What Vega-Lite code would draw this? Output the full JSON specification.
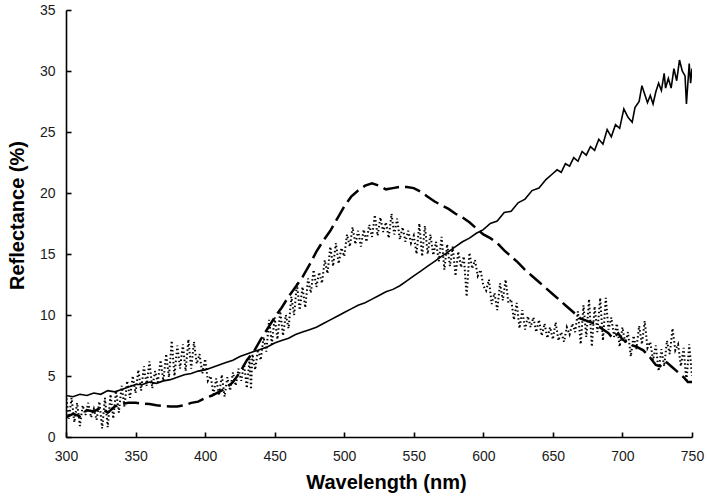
{
  "$schema": "https://vega.github.io/schema/vega-lite/v6.json",
  "width": 626,
  "height": 427,
  "autosize": {"type": "none"},
  "padding": {"left": 66, "top": 10, "right": 17, "bottom": 59},
  "background": "white",
  "config": {
    "view": {"stroke": null},
    "font": "Liberation Sans",
    "axis": {
      "grid": false,
      "domainColor": "#000",
      "domainWidth": 1.6,
      "tickColor": "#000",
      "tickWidth": 1.6,
      "tickSize": -5,
      "labelFont": "Liberation Sans",
      "labelFontSize": 14,
      "labelColor": "#1a1a1a",
      "titleFont": "Liberation Sans",
      "titleFontSize": 20,
      "titleFontWeight": "bold",
      "titleColor": "#000"
    }
  },
  "datasets": {
    "solid": [
      {"wl":300,"r":3.4},{"wl":305,"r":3.3},{"wl":310,"r":3.5},{"wl":315,"r":3.4},{"wl":320,"r":3.6},{"wl":325,"r":3.5},{"wl":330,"r":3.8},{"wl":335,"r":3.7},{"wl":340,"r":3.9},{"wl":345,"r":4.1},
      {"wl":350,"r":4.3},{"wl":355,"r":4.3},{"wl":360,"r":4.5},{"wl":365,"r":4.4},{"wl":370,"r":4.6},{"wl":375,"r":4.7},{"wl":380,"r":4.9},{"wl":385,"r":5.1},{"wl":390,"r":5.2},{"wl":395,"r":5.4},
      {"wl":400,"r":5.5},{"wl":405,"r":5.7},{"wl":410,"r":5.9},{"wl":415,"r":6.1},{"wl":420,"r":6.3},{"wl":425,"r":6.6},{"wl":430,"r":6.8},{"wl":435,"r":7.0},{"wl":440,"r":7.2},{"wl":445,"r":7.4},
      {"wl":450,"r":7.7},{"wl":455,"r":7.9},{"wl":460,"r":8.1},{"wl":465,"r":8.4},{"wl":470,"r":8.6},{"wl":475,"r":8.8},{"wl":480,"r":9.0},{"wl":485,"r":9.3},{"wl":490,"r":9.6},{"wl":495,"r":9.9},
      {"wl":500,"r":10.2},{"wl":505,"r":10.5},{"wl":510,"r":10.8},{"wl":515,"r":11.0},{"wl":520,"r":11.3},{"wl":525,"r":11.6},{"wl":530,"r":11.9},{"wl":535,"r":12.1},{"wl":540,"r":12.4},{"wl":545,"r":12.8},
      {"wl":550,"r":13.2},{"wl":555,"r":13.6},{"wl":560,"r":14.0},{"wl":565,"r":14.4},{"wl":570,"r":14.8},{"wl":575,"r":15.2},{"wl":580,"r":15.6},{"wl":585,"r":16.0},{"wl":590,"r":16.3},{"wl":595,"r":16.7},
      {"wl":600,"r":17.0},{"wl":605,"r":17.5},{"wl":610,"r":17.7},{"wl":615,"r":18.4},{"wl":620,"r":18.5},{"wl":625,"r":19.2},{"wl":630,"r":19.5},{"wl":635,"r":20.2},{"wl":640,"r":20.4},{"wl":645,"r":21.1},
      {"wl":650,"r":21.6},{"wl":653,"r":21.9},{"wl":656,"r":21.7},{"wl":659,"r":22.4},{"wl":662,"r":22.2},{"wl":665,"r":22.9},{"wl":668,"r":22.6},{"wl":671,"r":23.4},{"wl":674,"r":23.1},{"wl":677,"r":23.8},
      {"wl":680,"r":23.5},{"wl":683,"r":24.4},{"wl":686,"r":24.0},{"wl":689,"r":25.2},{"wl":692,"r":24.6},{"wl":695,"r":25.6},{"wl":698,"r":25.3},{"wl":701,"r":26.9},{"wl":704,"r":26.2},{"wl":707,"r":25.8},
      {"wl":709,"r":27.0},{"wl":712,"r":27.5},{"wl":714,"r":28.8},{"wl":716,"r":28.1},{"wl":718,"r":27.4},{"wl":720,"r":28.0},{"wl":722,"r":27.3},{"wl":724,"r":28.3},{"wl":726,"r":29.0},{"wl":728,"r":28.4},
      {"wl":730,"r":29.8},{"wl":731,"r":28.6},{"wl":733,"r":29.4},{"wl":735,"r":28.6},{"wl":737,"r":30.2},{"wl":739,"r":29.2},{"wl":741,"r":30.9},{"wl":743,"r":30.0},{"wl":745,"r":29.6},{"wl":746,"r":27.3},
      {"wl":748,"r":30.6},{"wl":749,"r":29.0},{"wl":750,"r":30.2}
    ],
    "dashed": [
      {"wl":300,"r":1.6},{"wl":305,"r":1.9},{"wl":310,"r":1.7},{"wl":315,"r":2.2},{"wl":320,"r":2.1},{"wl":325,"r":2.4},{"wl":330,"r":2.0},{"wl":335,"r":2.5},{"wl":340,"r":2.7},{"wl":345,"r":2.8},
      {"wl":350,"r":2.8},{"wl":355,"r":2.75},{"wl":360,"r":2.7},{"wl":365,"r":2.6},{"wl":370,"r":2.55},{"wl":375,"r":2.5},{"wl":380,"r":2.5},{"wl":385,"r":2.6},{"wl":390,"r":2.8},{"wl":395,"r":2.9},
      {"wl":400,"r":3.2},{"wl":405,"r":3.4},{"wl":410,"r":3.7},{"wl":415,"r":4.0},{"wl":420,"r":4.5},{"wl":425,"r":5.3},{"wl":430,"r":6.3},{"wl":435,"r":7.0},{"wl":440,"r":8.0},{"wl":445,"r":8.9},
      {"wl":450,"r":9.8},{"wl":455,"r":10.6},{"wl":460,"r":11.5},{"wl":465,"r":12.3},{"wl":470,"r":13.1},{"wl":475,"r":14.1},{"wl":480,"r":15.2},{"wl":485,"r":16.1},{"wl":490,"r":16.9},{"wl":495,"r":17.9},
      {"wl":500,"r":18.9},{"wl":505,"r":19.7},{"wl":510,"r":20.2},{"wl":515,"r":20.6},{"wl":520,"r":20.8},{"wl":525,"r":20.6},{"wl":530,"r":20.3},{"wl":535,"r":20.4},{"wl":540,"r":20.5},{"wl":545,"r":20.5},
      {"wl":550,"r":20.4},{"wl":555,"r":20.1},{"wl":560,"r":19.7},{"wl":565,"r":19.3},{"wl":570,"r":19.0},{"wl":575,"r":18.7},{"wl":580,"r":18.3},{"wl":585,"r":18.0},{"wl":590,"r":17.6},{"wl":595,"r":17.1},
      {"wl":600,"r":16.6},{"wl":605,"r":16.3},{"wl":610,"r":15.9},{"wl":615,"r":15.3},{"wl":620,"r":14.8},{"wl":625,"r":14.3},{"wl":630,"r":13.7},{"wl":635,"r":13.2},{"wl":640,"r":12.7},{"wl":645,"r":12.2},
      {"wl":650,"r":11.7},{"wl":655,"r":11.2},{"wl":660,"r":10.7},{"wl":665,"r":10.2},{"wl":670,"r":9.7},{"wl":675,"r":9.5},{"wl":680,"r":9.3},{"wl":685,"r":8.9},{"wl":690,"r":8.5},{"wl":693,"r":8.1},
      {"wl":697,"r":8.5},{"wl":700,"r":8.0},{"wl":705,"r":7.6},{"wl":710,"r":7.4},{"wl":715,"r":7.1},{"wl":720,"r":6.5},{"wl":724,"r":5.9},{"wl":727,"r":5.8},{"wl":731,"r":6.2},{"wl":735,"r":5.8},
      {"wl":739,"r":5.4},{"wl":744,"r":4.9},{"wl":747,"r":4.5},{"wl":750,"r":4.5}
    ],
    "dotted": [
      {"wl":300,"r":3.5},{"wl":302,"r":1.5},{"wl":304,"r":3.2},{"wl":306,"r":1.2},{"wl":308,"r":2.8},{"wl":310,"r":0.9},{"wl":312,"r":2.6},{"wl":314,"r":1.8},{"wl":316,"r":2.8},{"wl":318,"r":1.6},
      {"wl":320,"r":2.3},{"wl":322,"r":1.4},{"wl":324,"r":2.9},{"wl":326,"r":0.7},{"wl":328,"r":3.2},{"wl":330,"r":0.8},{"wl":332,"r":3.5},{"wl":334,"r":1.5},{"wl":336,"r":3.8},{"wl":338,"r":2.0},
      {"wl":340,"r":4.2},{"wl":342,"r":2.5},{"wl":344,"r":4.6},{"wl":346,"r":3.2},{"wl":348,"r":5.0},{"wl":350,"r":3.6},{"wl":352,"r":5.5},{"wl":354,"r":3.8},{"wl":356,"r":5.8},{"wl":358,"r":4.2},
      {"wl":360,"r":6.2},{"wl":362,"r":4.0},{"wl":364,"r":5.4},{"wl":366,"r":4.5},{"wl":368,"r":6.3},{"wl":370,"r":4.6},{"wl":372,"r":6.8},{"wl":374,"r":4.9},{"wl":376,"r":7.9},{"wl":378,"r":5.0},
      {"wl":380,"r":7.5},{"wl":382,"r":5.6},{"wl":384,"r":7.6},{"wl":386,"r":5.4},{"wl":388,"r":8.0},{"wl":390,"r":5.6},{"wl":392,"r":7.8},{"wl":394,"r":6.0},{"wl":396,"r":6.8},{"wl":398,"r":5.2},
      {"wl":400,"r":6.4},{"wl":402,"r":4.6},{"wl":404,"r":5.0},{"wl":406,"r":3.5},{"wl":408,"r":4.8},{"wl":410,"r":3.4},{"wl":412,"r":5.1},{"wl":414,"r":3.3},{"wl":416,"r":4.9},{"wl":418,"r":3.8},
      {"wl":420,"r":5.3},{"wl":422,"r":4.2},{"wl":424,"r":5.6},{"wl":426,"r":4.6},{"wl":428,"r":6.0},{"wl":430,"r":4.0},{"wl":432,"r":6.4},{"wl":433,"r":3.9},{"wl":434,"r":6.8},{"wl":436,"r":5.5},
      {"wl":438,"r":7.2},{"wl":440,"r":6.3},{"wl":442,"r":8.2},{"wl":444,"r":7.0},{"wl":446,"r":9.6},{"wl":448,"r":7.6},{"wl":450,"r":9.8},{"wl":452,"r":8.0},{"wl":454,"r":10.3},{"wl":456,"r":8.3},
      {"wl":458,"r":10.0},{"wl":460,"r":8.9},{"wl":462,"r":11.5},{"wl":464,"r":10.0},{"wl":466,"r":12.6},{"wl":468,"r":10.4},{"wl":470,"r":12.3},{"wl":472,"r":10.6},{"wl":474,"r":13.0},{"wl":476,"r":11.8},
      {"wl":478,"r":13.7},{"wl":480,"r":12.3},{"wl":482,"r":13.5},{"wl":484,"r":12.6},{"wl":486,"r":14.5},{"wl":488,"r":13.4},{"wl":490,"r":15.6},{"wl":492,"r":14.0},{"wl":494,"r":15.9},{"wl":496,"r":14.2},
      {"wl":498,"r":15.5},{"wl":500,"r":14.8},{"wl":502,"r":16.6},{"wl":504,"r":15.6},{"wl":506,"r":17.2},{"wl":508,"r":15.8},{"wl":510,"r":16.9},{"wl":512,"r":15.6},{"wl":514,"r":17.0},{"wl":516,"r":16.0},
      {"wl":518,"r":17.4},{"wl":520,"r":16.4},{"wl":522,"r":18.2},{"wl":524,"r":16.5},{"wl":526,"r":18.0},{"wl":528,"r":16.8},{"wl":530,"r":17.6},{"wl":532,"r":16.3},{"wl":534,"r":18.3},{"wl":536,"r":16.6},
      {"wl":538,"r":17.9},{"wl":540,"r":16.2},{"wl":542,"r":17.2},{"wl":544,"r":16.0},{"wl":546,"r":16.9},{"wl":548,"r":15.9},{"wl":550,"r":16.5},{"wl":552,"r":15.0},{"wl":554,"r":17.5},{"wl":556,"r":14.8},
      {"wl":558,"r":17.3},{"wl":560,"r":15.0},{"wl":562,"r":16.6},{"wl":564,"r":14.9},{"wl":566,"r":16.0},{"wl":568,"r":14.4},{"wl":570,"r":16.4},{"wl":572,"r":13.7},{"wl":574,"r":15.8},{"wl":576,"r":14.0},
      {"wl":578,"r":15.6},{"wl":580,"r":13.2},{"wl":582,"r":15.2},{"wl":584,"r":13.9},{"wl":586,"r":14.8},{"wl":588,"r":11.5},{"wl":590,"r":15.1},{"wl":592,"r":13.8},{"wl":594,"r":14.5},{"wl":596,"r":13.2},
      {"wl":598,"r":13.7},{"wl":600,"r":12.4},{"wl":602,"r":12.0},{"wl":604,"r":12.9},{"wl":606,"r":10.9},{"wl":608,"r":11.8},{"wl":610,"r":10.4},{"wl":612,"r":12.6},{"wl":614,"r":11.2},{"wl":616,"r":12.9},
      {"wl":618,"r":11.0},{"wl":620,"r":11.3},{"wl":622,"r":9.6},{"wl":624,"r":11.0},{"wl":626,"r":8.9},{"wl":628,"r":10.4},{"wl":630,"r":8.8},{"wl":632,"r":9.9},{"wl":634,"r":9.0},{"wl":636,"r":9.8},
      {"wl":638,"r":8.6},{"wl":640,"r":9.6},{"wl":642,"r":8.3},{"wl":644,"r":9.3},{"wl":646,"r":8.1},{"wl":648,"r":9.0},{"wl":650,"r":8.0},{"wl":652,"r":9.4},{"wl":654,"r":7.9},{"wl":656,"r":8.6},
      {"wl":658,"r":7.8},{"wl":660,"r":9.0},{"wl":662,"r":8.4},{"wl":664,"r":9.3},{"wl":666,"r":8.6},{"wl":668,"r":10.3},{"wl":670,"r":7.6},{"wl":672,"r":10.8},{"wl":674,"r":8.2},{"wl":676,"r":11.3},
      {"wl":678,"r":7.4},{"wl":680,"r":10.7},{"wl":682,"r":8.6},{"wl":684,"r":11.4},{"wl":686,"r":7.9},{"wl":688,"r":11.4},{"wl":690,"r":8.8},{"wl":692,"r":9.8},{"wl":694,"r":8.2},{"wl":696,"r":9.3},
      {"wl":698,"r":7.4},{"wl":700,"r":9.0},{"wl":702,"r":7.7},{"wl":704,"r":8.6},{"wl":706,"r":6.6},{"wl":708,"r":8.3},{"wl":710,"r":7.2},{"wl":712,"r":9.1},{"wl":714,"r":7.6},{"wl":716,"r":9.5},
      {"wl":718,"r":7.3},{"wl":720,"r":7.8},{"wl":722,"r":6.3},{"wl":724,"r":7.5},{"wl":726,"r":5.4},{"wl":728,"r":7.2},{"wl":730,"r":5.8},{"wl":732,"r":7.9},{"wl":734,"r":6.8},{"wl":736,"r":8.9},
      {"wl":738,"r":7.1},{"wl":740,"r":7.6},{"wl":742,"r":5.8},{"wl":744,"r":7.3},{"wl":746,"r":4.5},{"wl":748,"r":7.6},{"wl":750,"r":5.0}
    ]
  },
  "encoding": {
    "x": {
      "field": "wl", "type": "quantitative",
      "scale": {"domain": [300, 750], "nice": false, "zero": false},
      "axis": {"title": "Wavelength (nm)", "values": [300,350,400,450,500,550,600,650,700,750], "labelPadding": 17, "labelFlush": false, "titleBaseline": "alphabetic", "titleX": 320, "titleY": 51, "titleAnchor": null}
    },
    "y": {
      "field": "r", "type": "quantitative",
      "scale": {"domain": [0, 35], "nice": false},
      "axis": {"title": "Reflectance (%)", "values": [0,5,10,15,20,25,30,35], "labelPadding": 16, "titleX": -39, "titleY": 205, "titleBaseline": "bottom", "titleAlign": "center", "titleAngle": -90}
    }
  },
  "layer": [
    {"data": {"name": "dotted"}, "mark": {"type": "line", "color": "#000", "strokeWidth": 2, "strokeDash": [1.5, 2.5], "clip": true}},
    {"data": {"name": "dashed"}, "mark": {"type": "line", "color": "#000", "strokeWidth": 2.5, "strokeDash": [16, 6], "clip": true}},
    {"data": {"name": "solid"}, "mark": {"type": "line", "color": "#000", "strokeWidth": 1.6, "clip": true}}
  ]
}
